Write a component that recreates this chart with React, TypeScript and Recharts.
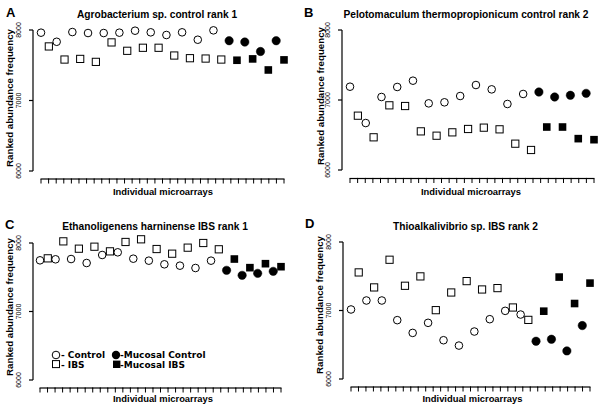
import React from 'react';
import { ScatterChart, Scatter, XAxis, YAxis, ReferenceLine } from 'recharts';

// x slots (individual microarrays)
const controlSlots = [0, 2, 4, 6, 8, 10, 12, 14, 16, 18, 20, 22];
const ibsSlots = [1, 3, 5, 7, 9, 11, 13, 15, 17, 19, 21, 23];
const mucosalControlSlots = [24, 26, 28, 30];
const mucosalIbsSlots = [25, 27, 29, 31];

const yTicks = [6000, 7000, 8000];

// Panel A: Agrobacterium sp. control rank 1
const aControl = [7962, 7833, 7971, 7957, 7957, 7962, 7990, 7967, 7929, 7967, 7862, 7995];
const aIbs = [7767, 7581, 7590, 7548, 7824, 7705, 7748, 7748, 7638, 7600, 7595, 7581];
const aMucControl = [7848, 7829, 7695, 7848];
const aMucIbs = [7571, 7590, 7433, 7576];

// Panel B: Pelotomaculum thermopropionicum control rank 2
const bControl = [7190, 6671, 7043, 7186, 7276, 6952, 6967, 7057, 7214, 7152, 6943, 7086];
const bIbs = [6776, 6467, 6924, 6914, 6552, 6490, 6538, 6586, 6605, 6581, 6376, 6286];
const bMucControl = [7114, 7043, 7067, 7095];
const bMucIbs = [6614, 6614, 6448, 6433];

// Panel C: Ethanoligenens harninense IBS rank 1
const cControl = [7747, 7762, 7766, 7708, 7825, 7864, 7771, 7742, 7689, 7669, 7635, 7742];
const cIbs = [7776, 8024, 7917, 7946, 7878, 8015, 8054, 7912, 7844, 7932, 8000, 7908];
const cMucControl = [7601, 7528, 7557, 7586];
const cMucIbs = [7766, 7640, 7698, 7654];

// Panel D: Thioalkalivibrio sp. IBS rank 2
const dControl = [7015, 7146, 7146, 6859, 6673, 6820, 6566, 6488, 6693, 6873, 6995, 6941];
const dIbs = [7556, 7337, 7741, 7361, 7498, 7005, 7263, 7429, 7307, 7327, 7044, 6863];
const dMucControl = [6551, 6580, 6410, 6780];
const dMucIbs = [6990, 7488, 7102, 7400];

const titles = [
  'Agrobacterium sp. control rank 1',
  'Pelotomaculum thermopropionicum control rank 2',
  'Ethanoligenens harninense IBS rank 1',
  'Thioalkalivibrio sp. IBS rank 2',
];
const letters = ['A', 'B', 'C', 'D'];
const yAxisTitle = 'Ranked abundance frequency';
const xAxisTitle = 'Individual microarrays';
const legendLabels = ['- Control', '- IBS', '-Mucosal Control', '-Mucosal IBS'];

const toPts = (slots: number[], vals: number[]) => slots.map((x, i) => ({ x, y: vals[i] }));

const W = 603;
const H = 410;
const XAXIS_H = 10;
const YAXIS_W = 2;
const Y_TOP = 8300;
const N_XTICKS = 33;
const SANS = '"Liberation Sans", Arial, Helvetica, sans-serif';

const OpenCircle = (p: any) => <circle cx={p.cx} cy={p.cy} r={3.8} fill="#fff" stroke="#000" strokeWidth={1} />;
const OpenSquare = (p: any) => <rect x={p.cx - 3.6} y={p.cy - 3.6} width={7.2} height={7.2} fill="#fff" stroke="#000" strokeWidth={1} />;
const FilledCircle = (p: any) => <circle cx={p.cx} cy={p.cy} r={4.2} fill="#000" stroke="#000" strokeWidth={0.5} />;
const FilledSquare = (p: any) => <rect x={p.cx - 3.8} y={p.cy - 3.8} width={7.6} height={7.6} fill="#000" />;

type Layout = { first: number; last: number; axisX: number; y8000: number; y6000: number; comb: number };

const layouts: Layout[] = [
  { first: 41, last: 284, axisX: 33, y8000: 30, y6000: 171, comb: 179 },
  { first: 350, last: 594, axisX: 342, y8000: 30, y6000: 170, comb: 178.5 },
  { first: 40, last: 281, axisX: 33, y8000: 243, y6000: 380, comb: 388 },
  { first: 351, last: 590, axisX: 343, y8000: 242, y6000: 379, comb: 387 },
];

const xTicks = Array.from({ length: N_XTICKS }, (_, j) => (j * 31) / (N_XTICKS - 1));

function Panel({ lay, control, ibs, mucControl, mucIbs }: { lay: Layout; control: number[]; ibs: number[]; mucControl: number[]; mucIbs: number[] }) {
  const unit = (lay.last - lay.first) / 31;
  const axisVal = -(lay.first - lay.axisX) / unit;
  const pxPerVal = (lay.y6000 - lay.y8000) / 2000;
  const yMin = 6000 - (lay.comb - lay.y6000) / pxPerVal;
  const topMargin = lay.y8000 - (Y_TOP - 8000) * pxPerVal;
  const off = lay.first - lay.axisX;
  const step = (lay.last - lay.first) / (N_XTICKS - 1);
  const YTick = (p: any) => (
    <g>
      <line x1={p.x - off - 4} x2={p.x - off} y1={p.y} y2={p.y} stroke="#000" strokeWidth={1.2} />
      <text
        transform={`translate(${p.x - off - 12},${p.y}) rotate(-90)`}
        textAnchor="middle"
        fontFamily={SANS}
        fontSize={7}
        fill="#000"
      >
        {p.payload.value}
      </text>
    </g>
  );
  const CombTick = (p: any) => (
    <g>
      <line x1={p.x} x2={p.x} y1={p.y} y2={p.y + 4.5} stroke="#000" strokeWidth={1} />
      {p.index < N_XTICKS - 1 ? (
        <line x1={p.x - 0.5} x2={p.x + step + 0.5} y1={p.y} y2={p.y} stroke="#000" strokeWidth={1.2} />
      ) : null}
    </g>
  );
  return (
    <div style={{ position: 'absolute', left: 0, top: 0 }}>
      <ScatterChart
        width={W}
        height={H}
        margin={{ left: lay.first - YAXIS_W, right: W - lay.last, top: topMargin, bottom: H - lay.comb - XAXIS_H }}
      >
        <XAxis
          type="number"
          dataKey="x"
          domain={[0, 31]}
          ticks={xTicks}
          interval={0}
          tick={<CombTick />}
          tickSize={0}
          tickMargin={0}
          axisLine={false}
          tickLine={false}
          height={XAXIS_H}
        />
        <YAxis
          type="number"
          dataKey="y"
          domain={[yMin, Y_TOP]}
          ticks={yTicks}
          interval={0}
          width={YAXIS_W}
          axisLine={false}
          tickLine={false}
          tickSize={0}
          tickMargin={0}
          tick={<YTick />}
        />
        <ReferenceLine
          segment={[{ x: axisVal, y: 6000 }, { x: axisVal, y: 8000 }]}
          stroke="#000"
          strokeWidth={1.2}
          ifOverflow="visible"
        />
        <Scatter data={toPts(controlSlots, control)} shape={OpenCircle} isAnimationActive={false} />
        <Scatter data={toPts(ibsSlots, ibs)} shape={OpenSquare} isAnimationActive={false} />
        <Scatter data={toPts(mucosalControlSlots, mucControl)} shape={FilledCircle} isAnimationActive={false} />
        <Scatter data={toPts(mucosalIbsSlots, mucIbs)} shape={FilledSquare} isAnimationActive={false} />
      </ScatterChart>
    </div>
  );
}

const textPos = [
  { lx: 6, ly: 17, tx: 157, ty: 17.5, yl: 9.5, ylc: 98, xl: 163, xly: 195 },
  { lx: 304, ly: 17, tx: 466, ty: 17.5, yl: 320.5, ylc: 96, xl: 471, xly: 195 },
  { lx: 5, ly: 229, tx: 155, ty: 229.5, yl: 9.5, ylc: 307, xl: 163, xly: 402 },
  { lx: 305, ly: 228, tx: 465.5, ty: 229.5, yl: 319.5, ylc: 305, xl: 472.5, xly: 402 },
];

export default function App() {
  const panels = [
    { control: aControl, ibs: aIbs, mucControl: aMucControl, mucIbs: aMucIbs },
    { control: bControl, ibs: bIbs, mucControl: bMucControl, mucIbs: bMucIbs },
    { control: cControl, ibs: cIbs, mucControl: cMucControl, mucIbs: cMucIbs },
    { control: dControl, ibs: dIbs, mucControl: dMucControl, mucIbs: dMucIbs },
  ];
  return (
    <div style={{ position: 'absolute', left: 0, top: 0, width: W, height: H, background: '#fff', overflow: 'hidden' }}>
      {panels.map((p, i) => (
        <Panel key={i} lay={layouts[i]} {...p} />
      ))}
      <svg width={W} height={H} style={{ position: 'absolute', left: 0, top: 0 }}>
        {textPos.map((t, i) => (
          <g key={i} fontFamily={SANS} fill="#000">
            <text x={t.lx} y={t.ly} fontSize={13} fontWeight="bold">{letters[i]}</text>
            <text x={t.tx} y={t.ty} fontSize={10.2} fontWeight="bold" textAnchor="middle">{titles[i]}</text>
            <text
              transform={`translate(${t.yl},${t.ylc}) rotate(-90)`}
              dy="0.35em"
              fontSize={9.7}
              fontWeight="bold"
              textAnchor="middle"
            >
              {yAxisTitle}
            </text>
            <text x={t.xl} y={t.xly} fontSize={9.4} fontWeight="bold" textAnchor="middle">{xAxisTitle}</text>
          </g>
        ))}
        <g fontFamily='"DejaVu Sans", Verdana, sans-serif' fontSize={9} fontWeight="bold" fill="#000">
          <circle cx={56} cy={355} r={3.8} fill="#fff" stroke="#000" strokeWidth={1} />
          <text x={61} y={358.3}>{legendLabels[0]}</text>
          <rect x={52.5} y={360.6} width={7} height={7} fill="#fff" stroke="#000" strokeWidth={1} />
          <text x={61} y={367.6}>{legendLabels[1]}</text>
          <circle cx={116} cy={355} r={4.2} fill="#000" />
          <text x={120} y={358.3}>{legendLabels[2]}</text>
          <rect x={113} y={360.6} width={7.4} height={7.4} fill="#000" />
          <text x={120} y={367.6}>{legendLabels[3]}</text>
        </g>
      </svg>
    </div>
  );
}
